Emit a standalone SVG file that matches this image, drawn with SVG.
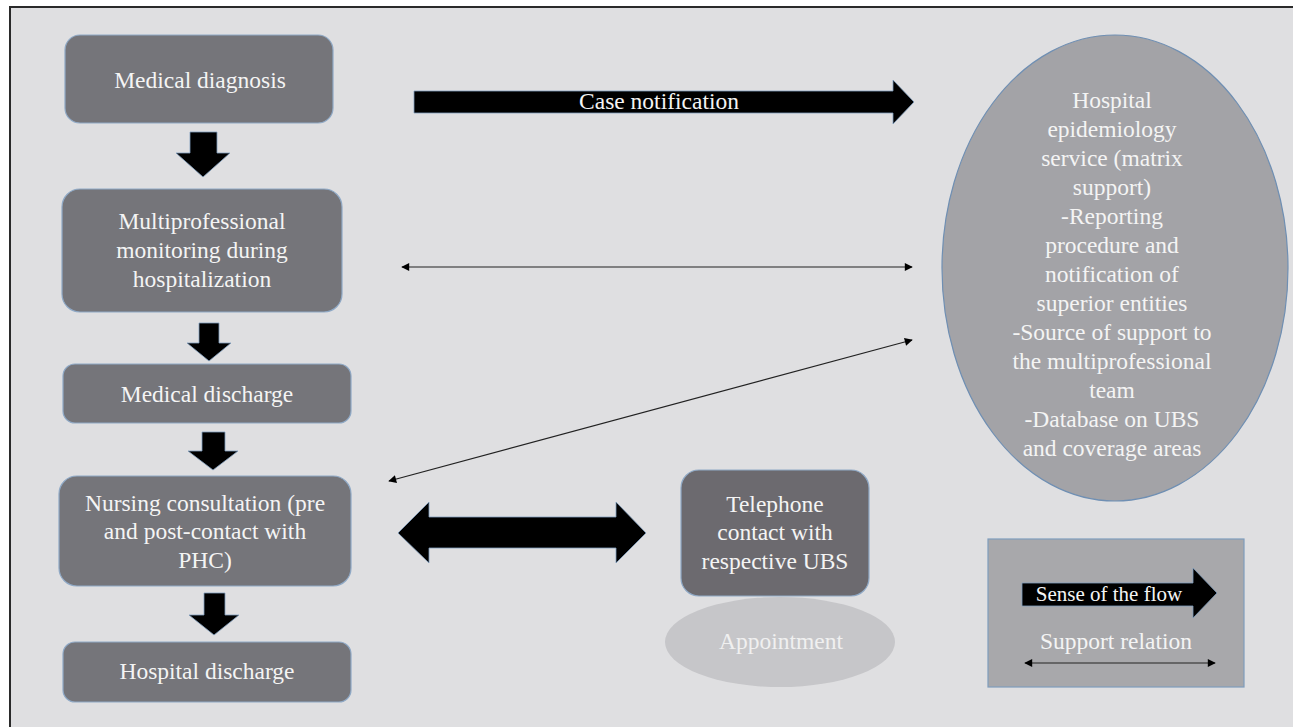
<svg xmlns="http://www.w3.org/2000/svg" width="1293" height="727" viewBox="0 0 1293 727">
<style>
  .box{fill:#75757a;stroke:#8fa9c6;stroke-width:1.2}
  .t{font-family:"Liberation Serif","Times New Roman",serif;font-size:23.5px;fill:#f4f4f4;text-anchor:middle}
  .blk{fill:#000;stroke:#7f9dbd;stroke-width:0.8}
  .thin{stroke:#222;stroke-width:1.2;fill:none}
</style>
<defs>
  <marker id="ah" viewBox="0 0 10 10" refX="9" refY="5" markerWidth="9" markerHeight="8" markerUnits="userSpaceOnUse" orient="auto-start-reverse">
    <path d="M0,0 L10,5 L0,10 z" fill="#000"/>
  </marker>
</defs>
<rect x="0" y="0" width="1293" height="727" fill="#ffffff"/>
<rect x="10" y="7" width="1300" height="740" fill="#dfdfe1" stroke="#2a2a2a" stroke-width="2"/>

<g id="n-diagnosis">
  <rect class="box" x="65" y="35" width="268" height="88" rx="15"/>
  <text class="t" x="200" y="88">Medical diagnosis</text>
</g>
<g id="n-monitoring">
  <rect class="box" x="62" y="189" width="280" height="123" rx="18"/>
  <text class="t" x="202" y="229">Multiprofessional</text>
  <text class="t" x="202" y="258">monitoring during</text>
  <text class="t" x="202" y="287">hospitalization</text>
</g>
<g id="n-medical-discharge">
  <rect class="box" x="63" y="364" width="288" height="59" rx="12"/>
  <text class="t" x="207" y="402">Medical discharge</text>
</g>
<g id="n-nursing">
  <rect class="box" x="59" y="476" width="292" height="110" rx="18"/>
  <text class="t" x="205" y="511">Nursing consultation (pre</text>
  <text class="t" x="205" y="539">and post-contact with</text>
  <text class="t" x="205" y="568">PHC)</text>
</g>
<g id="n-hospital-discharge">
  <rect class="box" x="63" y="642" width="288" height="60" rx="12"/>
  <text class="t" x="207" y="679">Hospital discharge</text>
</g>
<g id="n-epidemiology">
  <ellipse cx="1115" cy="268" rx="173" ry="233" fill="#a3a3a7" stroke="#6f8fb3" stroke-width="1.2"/>
  <text class="t" x="1112" y="108">Hospital</text>
  <text class="t" x="1112" y="137">epidemiology</text>
  <text class="t" x="1112" y="166">service (matrix</text>
  <text class="t" x="1112" y="195">support)</text>
  <text class="t" x="1112" y="224">-Reporting</text>
  <text class="t" x="1112" y="253">procedure and</text>
  <text class="t" x="1112" y="282">notification of</text>
  <text class="t" x="1112" y="311">superior entities</text>
  <text class="t" x="1112" y="340">-Source of support to</text>
  <text class="t" x="1112" y="369">the multiprofessional</text>
  <text class="t" x="1112" y="398">team</text>
  <text class="t" x="1112" y="427">-Database on UBS</text>
  <text class="t" x="1112" y="456">and coverage areas</text>
</g>
<g id="n-telephone">
  <rect x="681" y="470" width="188" height="126" rx="18" fill="#6c6a6f" stroke="#8fa9c6" stroke-width="1.2"/>
  <text class="t" x="775" y="512">Telephone</text>
  <text class="t" x="775" y="540">contact with</text>
  <text class="t" x="775" y="569">respective UBS</text>
</g>
<g id="n-appointment">
  <ellipse cx="780" cy="642" rx="115" ry="45" fill="#c6c6c9"/>
  <text class="t" x="781" y="649" style="fill:#f0f0f0">Appointment</text>
</g>
<g id="legend">
  <rect x="988" y="539" width="256" height="148" fill="#a8a8ab" stroke="#7f9dbd" stroke-width="1.2"/>
  <path class="blk" d="M1022,583 H1193 V568 L1217,593 L1193,618 V606 H1022 Z"/>
  <text class="t" x="1109" y="601" style="font-size:21px">Sense of the flow</text>
  <text class="t" x="1116" y="649">Support relation</text>
  <line class="thin" x1="1025" y1="663" x2="1215" y2="663" marker-start="url(#ah)" marker-end="url(#ah)"/>
</g>

<g id="connectors">
  <path class="blk" d="M190,132 H217 V153 H230 L203,177 L176,153 H190 Z"/>
  <path class="blk" d="M199,323 H219 V343 H231 L209,361 L187,343 H199 Z"/>
  <path class="blk" d="M202,432 H225 V451 H238 L213,470 L188,451 H202 Z"/>
  <path class="blk" d="M204,593 H225 V615 H239 L214,635 L189,615 H204 Z"/>
  <path class="blk" d="M414,91 H893 V80 L914,102 L893,124 V113 H414 Z"/>
  <text class="t" x="659" y="109">Case notification</text>
  <line class="thin" x1="402" y1="267" x2="912" y2="267" marker-start="url(#ah)" marker-end="url(#ah)"/>
  <line class="thin" x1="389" y1="481" x2="912" y2="340" marker-start="url(#ah)" marker-end="url(#ah)"/>
  <path class="blk" d="M398,533 L429,502 V517 H616 V502 L646,533 L616,563 V548 H429 V563 Z"/>
</g>
</svg>
